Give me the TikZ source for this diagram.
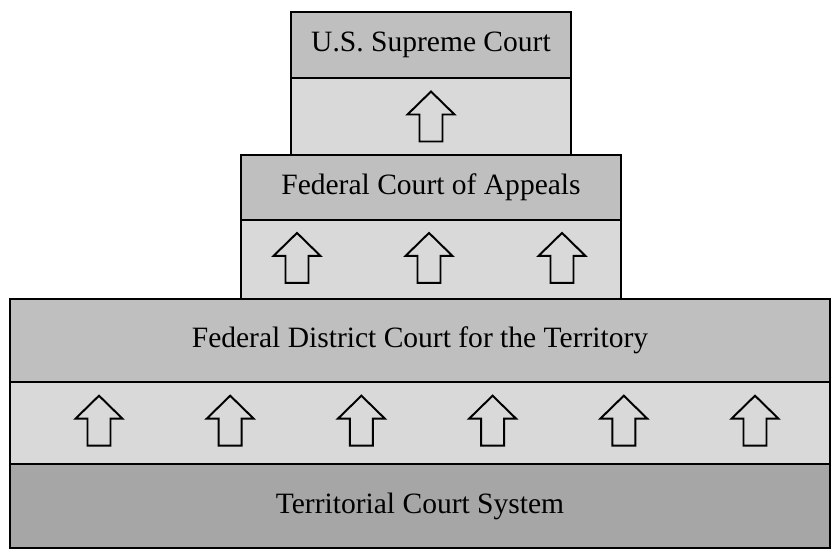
\documentclass[tikz,border=0pt]{standalone}
\usepackage{fontspec}
\setmainfont{Liberation Serif}
\usetikzlibrary{positioning}

\tikzset{
	uparrow/.pic={
		\draw[line width=1.4pt,fill=gray!30] (-11.5,-25) -- (-11.5,2) -- (-23.5,2) -- (0,25)
		-- (23.5,2) -- (11.5,2) -- (11.5,-25) -- cycle;
	}
}

\begin{document}
\begin{tikzpicture}[
		x=0.025cm,y=0.025cm,
		court/.style={draw,line width=1.4pt,fill=gray!50,outer sep=0pt,inner sep=0pt,
			font=\fontsize{21}{25}\selectfont},
		band/.style={draw,line width=1.4pt,fill=gray!30,outer sep=0pt,inner sep=0pt}
		]
		\useasboundingbox (0,0) rectangle (840,558);
		%Draw courts from the top down
		\path (431,513) node[court,minimum width=7cm,minimum height=1.65cm] (supreme) {U.S. Supreme Court};
		\node[band,minimum width=7cm,minimum height=1.925cm,below=0pt of supreme] (supremearr) {};
		\node[court,minimum width=9.475cm,minimum height=1.625cm,below=0pt of supremearr] (appeals) {Federal Court of Appeals};
		\node[band,minimum width=9.475cm,minimum height=1.975cm,below=0pt of appeals] (appealsarr) {};
		\node[court,minimum width=20.5cm,minimum height=2.075cm,below=0pt of appealsarr,xshift=-0.275cm] (district) {Federal District Court for the Territory};
		\node[band,minimum width=20.5cm,minimum height=2.05cm,below=0pt of district] (districtarr) {};
		\node[court,fill=gray!70,minimum width=20.5cm,minimum height=2.1cm,below=0pt of districtarr] (territorial) {Territorial Court System};
		%Draw arrows
		\pic at (supremearr.center) {uparrow};
		\foreach \dx in {-134,-2,131}
			\pic at ([xshift=\dx*0.025cm,yshift=0.04cm]appealsarr.center) {uparrow};
		\foreach \i in {0,...,5}
			\pic at ([xshift={(-321+131.2*\i)*0.025cm},yshift=0.06cm]districtarr.center) {uparrow};
	\end{tikzpicture}
\end{document}
